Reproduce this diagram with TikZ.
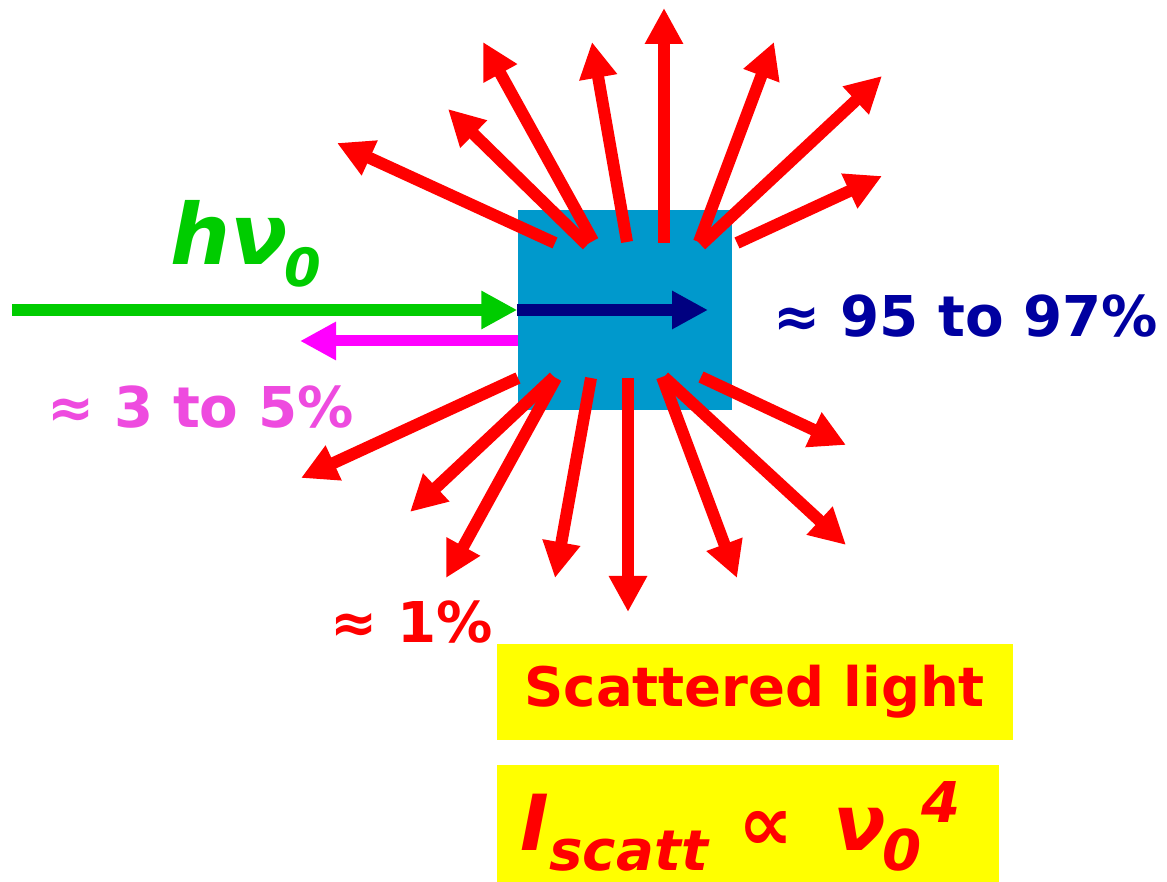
\documentclass[tikz,border=0pt]{standalone}
\usepackage{fontspec}
\setmainfont{DejaVu Sans}
\usetikzlibrary{arrows.meta, positioning}
\definecolor{sampleblue}{RGB}{0,153,204}
\definecolor{incgreen}{RGB}{0,204,0}
\definecolor{transnavy}{RGB}{0,0,128}
\definecolor{transtext}{RGB}{0,0,160}
\definecolor{reflmag}{RGB}{255,0,255}
\definecolor{refltext}{RGB}{238,75,223}
\definecolor{scatred}{RGB}{255,0,0}
\definecolor{noteyellow}{RGB}{255,255,0}
\tikzset{
  beam/.style={line width=0.12cm, -{Triangle[length=0.36cm, width=0.36cm]}},
  scatarrow/.style={beam, draw=scatred},
  pct/.style={font=\fontsize{16}{19}\selectfont\bfseries, inner sep=0pt, anchor=base west},
  notebox/.style={fill=noteyellow, inner sep=0pt, anchor=north west, text=scatred}
}

\begin{document}
\begin{tikzpicture}
  \useasboundingbox (0,0) rectangle (11.67,8.81);

  % Sample
  \node[fill=sampleblue, minimum width=2.14cm, minimum height=2cm, inner sep=0pt] (sample) at (6.25,5.71) {};

  % Scattered light, upper half
  \foreach \n/\sx/\sy/\tx/\ty in {1/5.55/6.38/3.37/7.38, 2/5.87/6.36/4.48/7.72,
      3/5.93/6.40/4.83/8.39, 4/6.27/6.39/5.92/8.39, 5/6.64/6.38/6.64/8.73,
      6/6.99/6.39/7.74/8.39, 7/7.01/6.36/8.82/8.05, 8/7.37/6.38/8.82/7.05} {
    \coordinate (us\n) at (\sx,\sy);
    \coordinate (ut\n) at (\tx,\ty);
    \draw[scatarrow] (us\n) -- (ut\n);
  }
  % Scattered light, lower half
  \foreach \n/\sx/\sy/\tx/\ty in {1/5.18/5.03/3.01/4.03, 2/5.54/5.04/4.10/3.69,
      3/5.56/5.03/4.46/3.03, 4/5.91/5.03/5.55/3.03, 5/6.28/5.03/6.28/2.69,
      6/6.62/5.04/7.37/3.03, 7/6.64/5.04/8.46/3.36, 8/7.01/5.04/8.46/4.36} {
    \coordinate (ls\n) at (\sx,\sy);
    \coordinate (lt\n) at (\tx,\ty);
    \draw[scatarrow] (ls\n) -- (lt\n);
  }

  % Incident, transmitted and reflected beams
  \coordinate (source) at (0.12,5.71);
  \coordinate (transend) at (7.08,5.71);
  \coordinate (reflstart) at (5.18,5.40);
  \coordinate (reflend) at (3.00,5.40);
  \draw[beam, draw=incgreen, fill=incgreen] (source) -- (sample.west);
  \draw[beam, draw=transnavy] (sample.west) -- (transend);
  \draw[beam, draw=reflmag, line width=0.11cm] (reflstart) -- (reflend);

  % Labels
  \node[font=\fontsize{24}{30}\selectfont\bfseries\itshape, text=incgreen, inner sep=0pt, anchor=base west]
    (photon) at (1.70,6.16) {hν\kern-1pt\raisebox{-0.22cm}{\fontsize{15}{18}\selectfont 0}};
  \node[pct, text=refltext] (reflpct) at (0.47,4.53) {≈ 3 to 5\%};
  \node[pct, text=transtext] (transpct) at (7.73,5.44) {≈ 95 to 97\%};
  \node[pct, text=scatred] (scatpct) at (3.30,2.38) {≈ 1\%};

  % Notes
  \node[notebox, minimum width=5.16cm, minimum height=0.96cm, font=\fontsize{15.5}{19}\selectfont\bfseries]
    (scatnote) at (4.96,2.38) {Scattered light};
  \node[notebox, minimum width=5.02cm, minimum height=1.17cm] (lawbox) at (4.96,1.17) {};
  \node[font=\fontsize{22}{26}\selectfont\bfseries\itshape, text=scatred, inner sep=0pt, anchor=base west]
    (scatlaw) at (5.20,0.31) {I\raisebox{-0.2cm}{\fontsize{16}{19}\selectfont scatt}\hspace{0.3cm}∝\hspace{0.4cm}ν\kern-1pt\raisebox{-0.2cm}{\fontsize{16}{19}\selectfont 0}\raisebox{0.27cm}{\fontsize{16}{19}\selectfont 4}};
\end{tikzpicture}
\end{document}
